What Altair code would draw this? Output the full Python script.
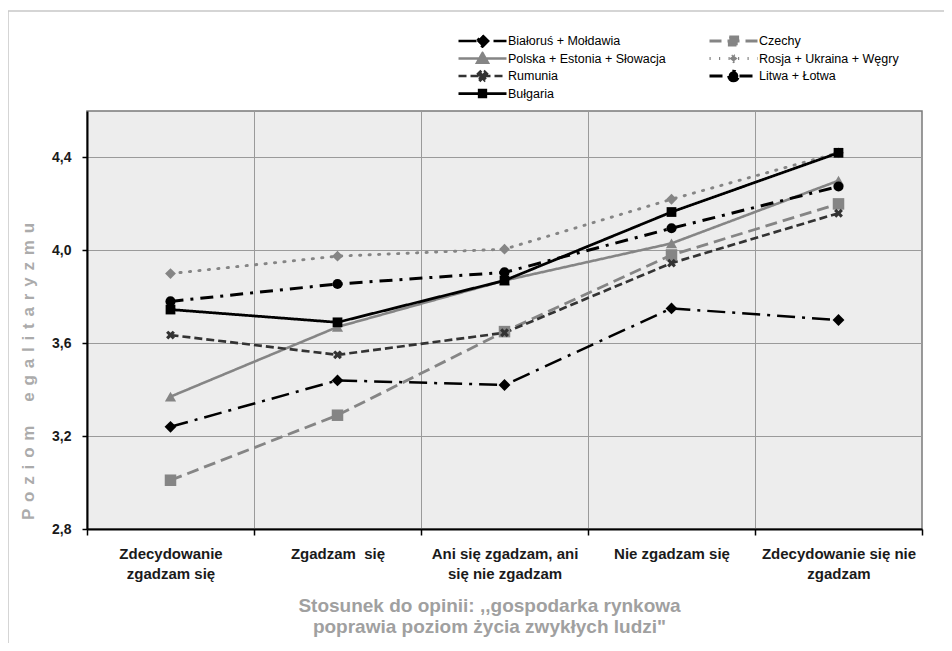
import altair as alt
import pandas as pd

categories = [
    "Zdecydowanie\nzgadzam się",
    "Zgadzam\u00a0\u00a0się",
    "Ani się zgadzam, ani\nsię nie zgadzam",
    "Nie zgadzam się",
    "Zdecydowanie się nie\nzgadzam",
]
series_names = [
    "Białoruś + Mołdawia",
    "Czechy",
    "Polska + Estonia + Słowacja",
    "Rosja + Ukraina + Węgry",
    "Rumunia",
    "Litwa + Łotwa",
    "Bułgaria",
]
bialorus = [3.24, 3.44, 3.42, 3.75, 3.70]
czechy = [3.01, 3.29, 3.65, 3.98, 4.20]
polska = [3.37, 3.67, 3.87, 4.03, 4.30]
rosja = [3.90, 3.975, 4.005, 4.22, 4.42]
rumunia = [3.635, 3.55, 3.645, 3.945, 4.16]
litwa = [3.78, 3.855, 3.905, 4.095, 4.275]
bulgaria = [3.745, 3.69, 3.87, 4.165, 4.42]
all_values = [bialorus, czechy, polska, rosja, rumunia, litwa, bulgaria]
y_ticks = [2.8, 3.2, 3.6, 4.0, 4.4]

rows = []
for s, vals in zip(series_names, all_values):
    for c, v in zip(categories, vals):
        rows.append({"series": s, "cat": c, "value": v})
df = pd.DataFrame(rows)

DOTTED = "Rosja + Ukraina + Węgry"
colors = ["#000000", "#858585", "#858585", "#858585", "#333333", "#000000", "#000000"]
dashes = [[18, 7, 3, 7], [12, 6], [1, 0], [1.2, 8.3], [8, 4], [13, 7, 3, 7], [1, 0]]
widths = [2.5, 3, 3, 3.6, 3, 2.5, 1.3]
X_PATH = ("M0.424,-0.849L0.849,-0.424L0.424,0L0.849,0.424L0.424,0.849L0,0.424"
          "L-0.424,0.849L-0.849,0.424L-0.424,0L-0.849,-0.424L-0.424,-0.849L0,-0.424Z")
shapes = ["diamond", "square", "triangle-up", "diamond", X_PATH, "circle", "square"]
sizes = [140, 95, 120, 40, 115, 130, 75]

# legend symbols: a line segment with the marker in the middle
LINE = "M-4,0L4,0"
leg_markers = [
    "M0,-0.95L0.95,0L0,0.95L-0.95,0Z",
    "M-0.7,-0.7L0.7,-0.7L0.7,0.7L-0.7,0.7Z",
    "M0,-0.9L0.9,0.7L-0.9,0.7Z",
    "M0,-0.5L0.7,0L0,0.5L-0.7,0Z",
    "M0.36,-0.72L0.72,-0.36L0.36,0L0.72,0.36L0.36,0.72L0,0.36L-0.36,0.72L-0.72,0.36L-0.36,0L-0.72,-0.36L-0.36,-0.72L0,-0.36Z",
    "M-0.8,0A0.8,0.8 0 1,0 0.8,0A0.8,0.8 0 1,0 -0.8,0Z",
    "M-0.55,-0.55L0.55,-0.55L0.55,0.55L-0.55,0.55Z",
]
leg_paths = [LINE + m for m in leg_markers]

# the legend fills its two columns top-down, so list entries column by column
legend_order = [0, 2, 4, 6, 1, 3, 5]
names_l = [series_names[i] for i in legend_order]
colors_l = [colors[i] for i in legend_order]
dashes_l = [dashes[i] for i in legend_order]
widths_l = [widths[i] for i in legend_order]


def js_list(items):
    return "[" + ",".join("'" + i + "'" for i in items) + "]"


idx = "indexof(" + js_list(series_names) + ", datum.value)"
shape_expr = js_list(leg_paths) + "[" + idx + "]"
fill_expr = "scale('color', datum.value)"

FONT = "Liberation Sans"

x_enc = alt.X(
    "cat:N",
    sort=categories,
    scale=alt.Scale(type="band", domain=categories, paddingInner=0, paddingOuter=0),
    axis=alt.Axis(
        title=["Stosunek do opinii: ,,gospodarka rynkowa", 'poprawia poziom życia zwykłych ludzi"'],
        titleX=402, titleY=67, titleBaseline="top", titleFontSize=19, titleFontWeight="bold",
        titleColor="#a0a0a0", titleFont=FONT, titleLineHeight=21,
        labelExpr="split(datum.label, '\\n')", labelAngle=0, labelFont=FONT,
        labelFontSize=15, labelFontWeight="bold", labelColor="#1a1a1a", labelLineHeight=20,
        labelBaseline="top", labelPadding=11, labelLimit=300,
        tickBand="extent", tickSize=6, tickColor="#000", tickWidth=1.5,
        domainColor="#000", domainWidth=2, grid=True, gridColor="#9a9a9a", gridWidth=1,
    ),
)
GAP = "\u2009\u2009"
y_title = GAP.join(list("Poziom")) + "\u2003" + GAP + GAP.join(list("egalitaryzmu"))
y_enc = alt.Y(
    "value:Q",
    scale=alt.Scale(domain=[2.8, 4.6], nice=False, zero=False),
    axis=alt.Axis(
        values=y_ticks, title=y_title, titleX=-59, titleY=260, titleAngle=270,
        titleBaseline="middle", titleFontSize=17, titleFontWeight="bold", titleColor="#ababab",
        titleFont=FONT,
        labelExpr="replace(format(datum.value, '.1f'), '.', ',')", labelFont=FONT,
        labelFontSize=14, labelFontWeight="bold", labelColor="#1a1a1a", labelPadding=11,
        tickSize=5, tickColor="#000", tickWidth=1.5,
        domainColor="#000", domainWidth=2, grid=True, gridColor="#9a9a9a", gridWidth=1,
    ),
)

legend = alt.Legend(
    orient="none", legendX=370, legendY=-77, columns=2, title=None,
    symbolSize=144, labelFont=FONT, labelFontSize=12.5, labelColor="#000",
    labelLimit=300, columnPadding=42, rowPadding=3.5, clipHeight=14,
    symbolOffset=18, labelOffset=18,
    symbolType={"expr": shape_expr},
    symbolFillColor={"expr": fill_expr},
    symbolOpacity=1,
)
color_enc = alt.Color(
    "series:N",
    scale=alt.Scale(domain=names_l, range=colors_l),
    legend=legend,
)
dash_enc = alt.StrokeDash("series:N", scale=alt.Scale(domain=names_l, range=dashes_l))
width_enc = alt.StrokeWidth("series:N", scale=alt.Scale(domain=names_l, range=widths_l))

base = alt.Chart(df)
lines = base.transform_filter(alt.datum.series != DOTTED).mark_line(strokeCap="butt").encode(
    x=x_enc, y=y_enc, color=color_enc, strokeDash=dash_enc, strokeWidth=width_enc,
)
dotted = base.transform_filter(alt.datum.series == DOTTED).mark_line(strokeCap="round").encode(
    x=x_enc, y=y_enc, color=color_enc, strokeDash=dash_enc, strokeWidth=width_enc,
)
# marker scales use another domain order so that their (hidden) legends stay separate
points = base.mark_point(filled=True, opacity=1).encode(
    x=x_enc, y=y_enc,
    color=color_enc,
    shape=alt.Shape("series:N", scale=alt.Scale(domain=series_names, range=shapes), legend=None),
    size=alt.Size("series:N", scale=alt.Scale(domain=series_names, range=sizes), legend=None),
)
frame = alt.Chart(alt.Data(values=[{"a": 1}])).mark_rect(
    filled=False, stroke="#c8c8c8", strokeWidth=1.5
).encode(
    x=alt.value(-79), x2=alt.value(900), y=alt.value(-100), y2=alt.value(600)
)

chart = alt.layer(frame, dotted, lines, points).properties(
    width=835, height=418,
    autosize=alt.AutoSizeParams(type="none"),
    padding={"left": 79, "top": 103, "right": 22, "bottom": 114},
    background="white",
).configure_view(
    fill="#ededed", stroke="#7a7a7a", strokeWidth=1.5
)

chart.save("out.html", embed_options={"renderer": "svg", "actions": False})
